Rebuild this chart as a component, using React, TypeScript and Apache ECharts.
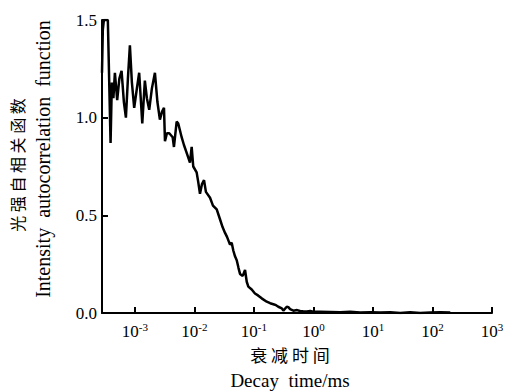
import React, { useEffect, useRef } from "react";
import * as echarts from "echarts";

// Decay time (ms)
const decayTime: number[] = [
  2.8e-4, 2.89e-4, 3.01e-4, 3.51e-4, 3.9e-4, 4.1e-4, 4.35e-4, 4.61e-4, 5.04e-4, 5.48e-4,
  5.97e-4, 6.53e-4, 7.06e-4, 7.63e-4, 8.24e-4, 8.9e-4, 9.73e-4, 1.08e-3, 1.18e-3, 1.33e-3,
  1.47e-3, 1.59e-3, 1.74e-3, 1.93e-3, 2.17e-3, 2.39e-3, 2.63e-3, 2.85e-3, 3.08e-3, 3.2e-3,
  3.45e-3, 3.78e-3, 4.31e-3, 4.53e-3, 5.03e-3, 5.35e-3, 6.1e-3, 6.67e-3, 7.41e-3, 8.42e-3,
  8.99e-3, 9.56e-3, 1.09e-2, 1.16e-2, 1.24e-2, 1.34e-2, 1.45e-2, 1.56e-2, 1.83e-2, 2.05e-2,
  2.37e-2, 2.69e-2, 2.97e-2, 3.27e-2, 3.53e-2, 3.96e-2, 4.23e-2, 4.5e-2, 4.81e-2, 5.14e-2,
  5.51e-2, 5.84e-2, 6.48e-2, 7.09e-2, 7.57e-2, 8.05e-2, 9.18e-2, 0.104, 0.117, 0.135,
  0.164, 0.187, 0.212, 0.235, 0.257, 0.294, 0.312, 0.356, 0.379, 0.405,
  0.46, 0.531, 0.596, 0.67, 0.773, 0.878, 0.987, 1.29, 1.91, 2.81,
  4.14, 6.09, 8.97, 13.2, 19.5, 28.7, 42.2, 62.2, 91.7, 135, 199,
];

// Intensity autocorrelation values
const intensity: number[] = [
  1.23, 1.45, 1.5, 1.5, 0.87, 1.18, 1.1, 1.23, 1.09, 1.2,
  1.24, 1.08, 1.0, 1.2, 1.37, 1.18, 1.05, 1.15, 1.23, 0.97,
  1.19, 1.1, 1.04, 1.15, 1.23, 1.08, 0.99, 1.03, 1.05, 0.88,
  0.92, 0.92, 0.9, 0.85, 0.98, 0.97, 0.9, 0.86, 0.82, 0.77,
  0.85, 0.75, 0.72, 0.67, 0.61, 0.66, 0.68, 0.62, 0.59, 0.55,
  0.53, 0.48, 0.44, 0.41, 0.39, 0.35, 0.36, 0.32, 0.29, 0.27,
  0.23, 0.2, 0.19, 0.22, 0.16, 0.135, 0.12, 0.1, 0.09, 0.075,
  0.058, 0.05, 0.045, 0.04, 0.032, 0.024, 0.012, 0.032, 0.03, 0.02,
  0.012, 0.015, 0.01, 0.009, 0.008, 0.01, 0.006, 0.006, 0.005, 0.004,
  0.006, 0.003, 0.004, 0.002, 0.004, 0.0, 0.004, 0.0, 0.003, 0.004, 0.002,
];

const yTicks: number[] = [0, 0.5, 1.0, 1.5];
const xTitleZh = "衰 减 时 间";
const xTitleEn = "Decay  time/ms";
const yTitleZh = "光 强 自 相 关 函 数";
const yTitleEn = "Intensity  autocorrelation  function";

const SERIF = "'Liberation Serif', 'DejaVu Serif', serif";
const CJK = "'Noto Sans CJK SC', sans-serif";

export default function App() {
  const ref = useRef<HTMLDivElement>(null);

  useEffect(() => {
    if (!ref.current) return;
    const chart = echarts.init(ref.current, undefined, { renderer: "svg" });
    const data = decayTime.map((t, i) => [t, intensity[i]]);
    chart.setOption({
      animation: false,
      backgroundColor: "#ffffff",
      grid: { left: 102, right: 15, top: 20, bottom: 79 },
      xAxis: {
        type: "log",
        logBase: 10,
        min: 2.8e-4,
        max: 1000,
        axisLine: { show: true, lineStyle: { color: "#000", width: 2 } },
        axisTick: { show: true, inside: true, length: 6, lineStyle: { color: "#000", width: 2 } },
        minorTick: { show: false },
        splitLine: { show: false },
        axisLabel: {
          showMinLabel: false,
          margin: 8,
          color: "#000",
          formatter: (v: number) => {
            const e = Math.round(Math.log10(v));
            return `{b|10}{s|${e}}`;
          },
          rich: {
            b: { fontFamily: SERIF, fontSize: 17, color: "#000" },
            s: { fontFamily: SERIF, fontSize: 11, color: "#000", padding: [0, 0, 9, 0] },
          },
        },
      },
      yAxis: {
        type: "value",
        min: yTicks[0],
        max: yTicks[yTicks.length - 1],
        interval: 0.5,
        axisLine: { show: true, lineStyle: { color: "#000", width: 2 } },
        axisTick: { show: true, inside: true, length: 6, lineStyle: { color: "#000", width: 2 } },
        splitLine: { show: false },
        axisLabel: {
          margin: 5,
          color: "#000",
          fontFamily: SERIF,
          fontSize: 17,
          formatter: (v: number) => v.toFixed(1),
        },
      },
      series: [
        {
          type: "line",
          data,
          showSymbol: false,
          symbol: "none",
          lineStyle: { color: "#000", width: 2.5 },
          clip: true,
        },
      ],
      graphic: [
        {
          type: "text",
          x: 290,
          y: 354,
          style: { text: xTitleZh, font: `17px ${CJK}`, fill: "#000", align: "center", verticalAlign: "middle" },
        },
        {
          type: "text",
          x: 290,
          y: 380,
          style: { text: xTitleEn, font: `19px ${SERIF}`, fill: "#000", align: "center", verticalAlign: "middle" },
        },
        {
          type: "text",
          x: 17,
          y: 165,
          rotation: Math.PI / 2,
          style: { text: yTitleZh, font: `16px ${CJK}`, fill: "#000", align: "center", verticalAlign: "middle" },
        },
        {
          type: "text",
          x: 43,
          y: 159,
          rotation: Math.PI / 2,
          style: { text: yTitleEn, font: `20px ${SERIF}`, fill: "#000", align: "center", verticalAlign: "middle" },
        },
      ],
    });
    return () => chart.dispose();
  }, []);

  return <div ref={ref} style={{ width: 507, height: 392, position: "absolute", left: 0, top: 0 }} />;
}
